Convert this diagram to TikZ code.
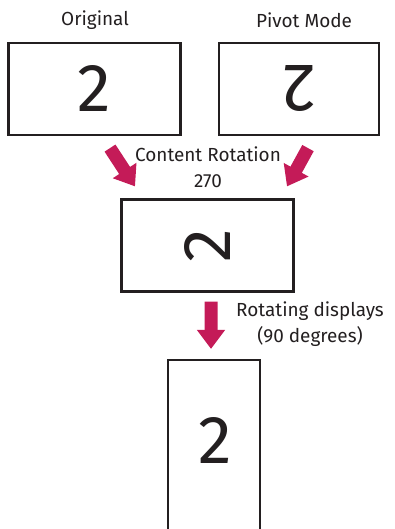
\documentclass[tikz,border=0pt]{standalone}
\usepackage{fontspec}
\setmainfont{Fira Sans}
\usetikzlibrary{arrows.meta}

\definecolor{lgred}{RGB}{196,27,88}
\definecolor{frame}{RGB}{35,31,32}

\tikzset{
  screen/.style={draw=frame, line width=2.2bp, minimum width=172bp, minimum height=92bp, inner sep=0pt},
  digit/.style={font=\fontsize{68}{68}\selectfont, text=frame, inner sep=0pt},
  caption/.style={font=\fontsize{19}{26}\selectfont, text=frame, align=center, inner sep=0pt},
  bigarrow/.style={lgred, line width=13bp, -{Triangle[length=19bp,width=27bp]}}
}

\begin{document}
\begin{tikzpicture}[x=1bp,y=-1bp]
        \clip (0,0) rectangle (394,529);

        % top row: original and pivot mode
        \node[screen] (orig) at (94.5,89) {};
        \node[screen, minimum width=160bp] (pivot) at (299,89) {};
        \node[digit] (d1) at (orig.center) {2};
        \node[digit, rotate=180] (d2) at (pivot.center) {2};
        \node[caption] (origlbl) at (95,20) {Original};
        \node[caption] (pivotlbl) at (304,20) {Pivot Mode};

        % content rotation 270
        \node[screen] (rot) at (207.5,245.5) {};
        \node[digit, rotate=90] (d3) at (rot.center) {2};
        \node[caption] (rotlbl) at (208,167) {Content Rotation\\270};
        \draw[bigarrow] ([shift={(15.5,12)}]orig.south) -- ([shift={(-72.5,-12)}]rot.north);
        \draw[bigarrow] ([shift={(9,12)}]pivot.south) -- ([shift={(79.5,-12)}]rot.north);

        % rotated display
        \node[screen, minimum width=92bp, minimum height=220bp] (disp) at (214,470) {};
        \node[digit] (d4) at (215,440) {2};
        \node[caption] (displbl) at (310,324) {Rotating displays\\(90 degrees)};
        \draw[bigarrow] ([shift={(3.5,9)}]rot.south) -- ([shift={(-3,-10)}]disp.north);
    \end{tikzpicture}
\end{document}
